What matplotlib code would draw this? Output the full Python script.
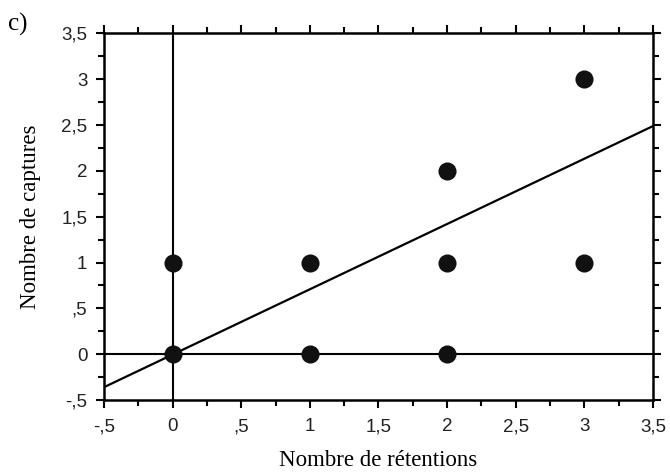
import matplotlib
matplotlib.use("Agg")
import matplotlib.pyplot as plt
import numpy as np

# Data
retentions = [0, 0, 1, 1, 2, 2, 2, 3, 3]
captures = [1, 0, 1, 0, 2, 1, 0, 3, 1]
fit_slope = 0.7125
fit_intercept = -0.004
tick_values = [-0.5, 0, 0.5, 1, 1.5, 2, 2.5, 3, 3.5]
tick_labels = ["-,5", "0", ",5", "1", "1,5", "2", "2,5", "3", "3,5"]
xlabel = "Nombre de rétentions"
ylabel = "Nombre de captures"
panel = "c)"

fig = plt.figure(figsize=(6.70, 4.73), dpi=100)
ax = fig.add_axes([104/670, 1-400/473, (653-104)/670, (400-33.5)/473])

lo, hi = -0.5, 3.5
ax.set_xlim(lo, hi)
ax.set_ylim(lo, hi)

# reference lines
ax.axhline(0, color="black", lw=1.5, zorder=1)
ax.axvline(0, color="black", lw=1.5, zorder=1)

# fit line
xs = np.array([lo, hi])
ax.plot(xs, fit_intercept + fit_slope * xs, color="black", lw=1.6, zorder=2, clip_on=True)

# points
ax.scatter(retentions, captures, s=170, color="#111111", zorder=3, linewidths=0)

ax.set_xticks(tick_values)
ax.set_xticklabels(tick_labels)
ax.set_yticks(tick_values)
ax.set_yticklabels(tick_labels)
ax.set_xticks(np.arange(lo + 0.25, hi, 0.5), minor=True)
ax.set_yticks(np.arange(lo + 0.25, hi, 0.5), minor=True)

ax.tick_params(which="both", direction="out", top=True, right=True,
               width=1.5, color="black")
ax.tick_params(which="major", length=6, labelsize=13.5)
ax.tick_params(axis="x", which="major", pad=7)
ax.tick_params(axis="y", which="major", pad=6)
ax.tick_params(which="minor", length=4)
for lab in ax.get_xticklabels() + ax.get_yticklabels():
    lab.set_family("Liberation Sans")
    lab.set_color("#222222")
for sp in ax.spines.values():
    sp.set_linewidth(1.8)

ax.set_xlabel(xlabel, family="Liberation Serif", fontsize=16.5)
ax.xaxis.set_label_coords(0.5, -(460-400)/366.5)
ax.xaxis.label.set_verticalalignment("center")
ax.set_ylabel(ylabel, family="Liberation Serif", fontsize=16.5)
ax.yaxis.set_label_coords((30-104)/549, 0.5)
ax.yaxis.label.set_verticalalignment("center")

fig.text(8/670, 1-24/473, panel, family="Liberation Serif", fontsize=18, va="center", ha="left")

fig.savefig("out.png", dpi=100)
